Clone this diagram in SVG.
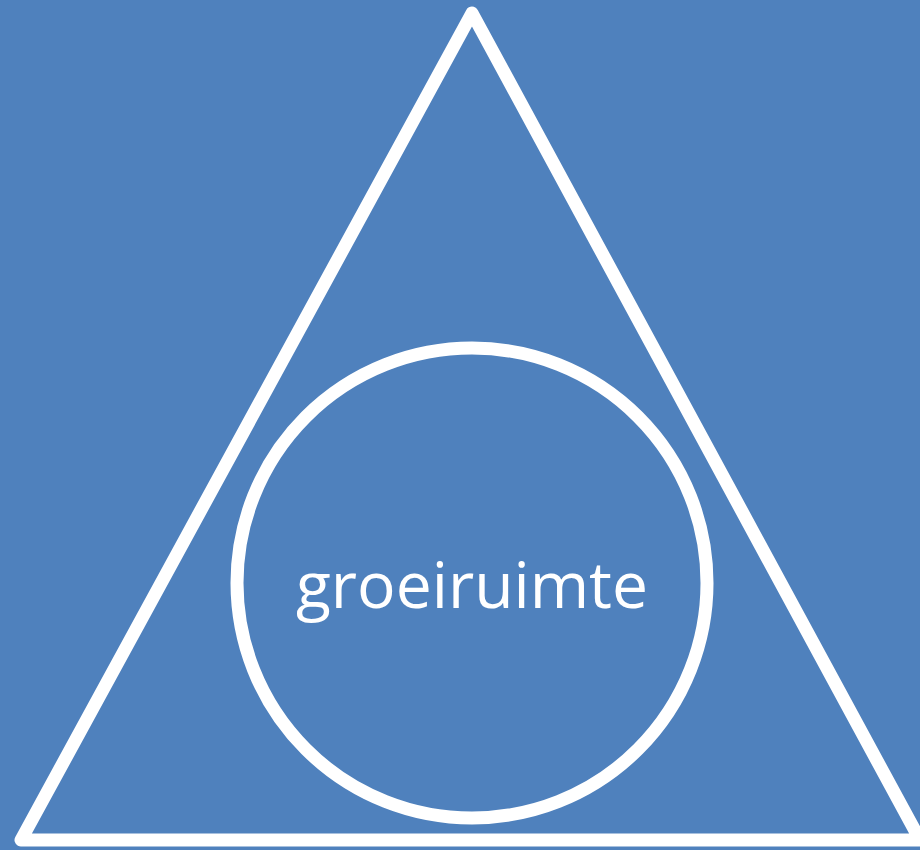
<svg xmlns="http://www.w3.org/2000/svg" width="920" height="850" viewBox="0 0 920 850">
<style>
.shape{fill:none;stroke:#ffffff;stroke-width:13;stroke-linejoin:round}
.label{font-family:"Open Sans","Liberation Sans",sans-serif;font-size:64px;fill:#ffffff}
</style>
<rect x="0" y="0" width="920" height="850" fill="#4F81BD"/>
<g id="triangle"><polygon class="shape" points="472,13 21,840 920,840"/></g>
<g id="circle">
<circle class="shape" cx="472" cy="583" r="235"/>
<text class="label" x="472" y="608" text-anchor="middle" textLength="352" lengthAdjust="spacingAndGlyphs">groeiruimte</text>
</g>
</svg>
